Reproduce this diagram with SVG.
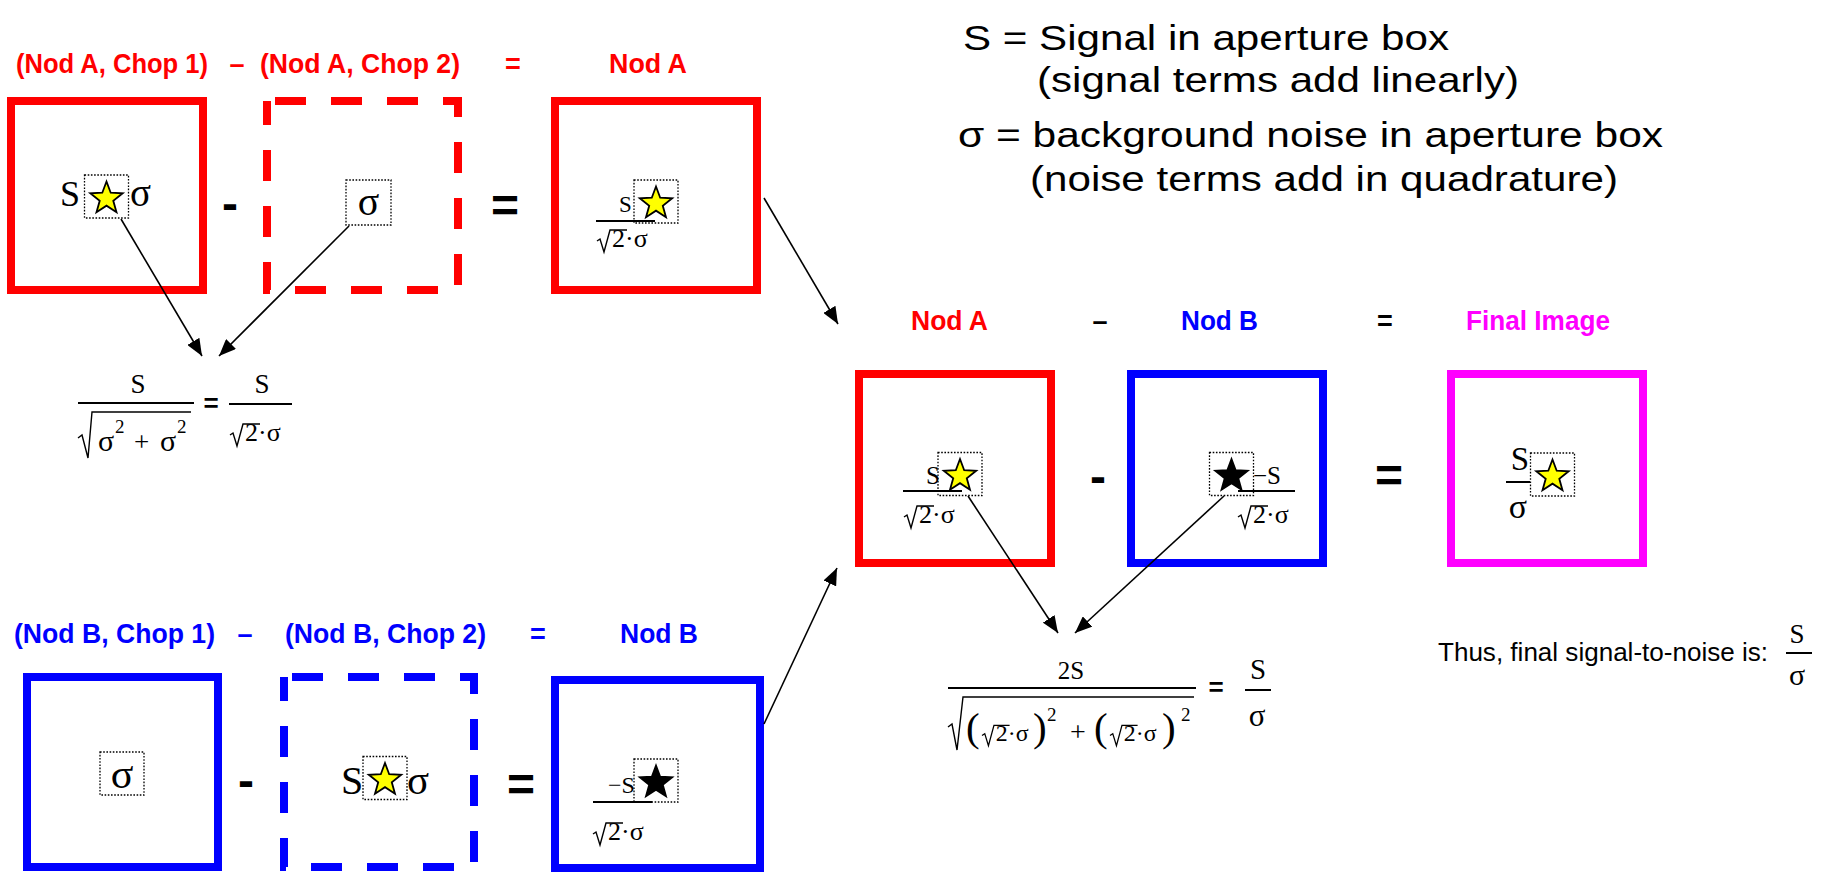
<svg xmlns="http://www.w3.org/2000/svg" xmlns:xlink="http://www.w3.org/1999/xlink" width="1830" height="872" viewBox="0 0 1830 872">
<style>
.hd{font-family:"Liberation Sans",Arial,sans-serif;font-weight:bold;font-size:27px}
.c{text-anchor:middle}
.r{fill:#ff0000}.b{fill:#0000ff}.m{fill:#ff00ff}
.op{font-family:"Liberation Sans",Arial,sans-serif;font-weight:bold;font-size:48px;fill:#000;text-anchor:middle}
.eq{font-family:"Liberation Sans",Arial,sans-serif;font-weight:bold;font-size:26px;fill:#000;text-anchor:middle}
.mt{font-family:"Liberation Serif","Times New Roman",serif;fill:#000}
.lg{font-family:"Liberation Sans",Arial,sans-serif;font-size:35px;fill:#000}
.tx{font-family:"Liberation Sans",Arial,sans-serif;font-size:25px;fill:#000}
.box{fill:none;stroke-width:8}
.sr{stroke:#ff0000}.sb{stroke:#0000ff}.sm{stroke:#ff00ff}
.dash{stroke-dasharray:31 25;stroke-dashoffset:48}
.dot{fill:none;stroke:#000;stroke-width:1.3;stroke-dasharray:1.6 1.6}
.bar{stroke:#000;stroke-width:2}
.rad{fill:none;stroke:#000;stroke-width:1.4}
.conn line{stroke:#000;stroke-width:1.6;marker-end:url(#ah)}
</style>
<defs>
<marker id="ah" markerUnits="userSpaceOnUse" markerWidth="18" markerHeight="14" refX="17" refY="7" orient="auto"><path d="M0,0 L17,7 L0,14 z" fill="#000"/></marker>
<polygon id="star" points="0,-17 4.2,-5.78 16.17,-5.25 6.78,2.21 9.99,13.75 0,7.14 -9.99,13.75 -6.78,2.21 -16.17,-5.25 -4.2,-5.78"/>
<g id="sy"><rect class="dot" x="-22" y="-21.5" width="44" height="43"/><use xlink:href="#star" href="#star" y="2" fill="#ffff00" stroke="#000" stroke-width="1.8"/></g>
<g id="sk"><rect class="dot" x="-22" y="-21.5" width="44" height="43"/><use xlink:href="#star" href="#star" y="2" fill="#000" stroke="#000" stroke-width="1.8"/></g>
<g id="r2s"><polyline class="rad" points="0,-6 3,-8 7,5 13,-17 30,-17"/><text class="mt" x="15" y="0" font-size="26">2·σ</text></g>
</defs>

<g id="legend">
<text class="lg" x="963" y="50" textLength="486" lengthAdjust="spacingAndGlyphs">S = Signal in aperture box</text>
<text class="lg" x="1037" y="92" textLength="482" lengthAdjust="spacingAndGlyphs">(signal terms add linearly)</text>
<text class="lg" x="958" y="147" textLength="705" lengthAdjust="spacingAndGlyphs">σ = background noise in aperture box</text>
<text class="lg" x="1030" y="191" textLength="588" lengthAdjust="spacingAndGlyphs">(noise terms add in quadrature)</text>
</g>

<g id="headings">
<text class="hd r" x="16" y="73" textLength="192" lengthAdjust="spacingAndGlyphs">(Nod A, Chop 1)</text>
<text class="hd r c" x="237" y="73">–</text>
<text class="hd r" x="260" y="73" textLength="200" lengthAdjust="spacingAndGlyphs">(Nod A, Chop 2)</text>
<text class="hd r c" x="513" y="73">=</text>
<text class="hd r" x="609" y="73" textLength="78" lengthAdjust="spacingAndGlyphs">Nod A</text>

<text class="hd r" x="911" y="330" textLength="77" lengthAdjust="spacingAndGlyphs">Nod A</text>
<text class="hd c" x="1100" y="330">–</text>
<text class="hd b" x="1181" y="330" textLength="77" lengthAdjust="spacingAndGlyphs">Nod B</text>
<text class="hd c" x="1385" y="330">=</text>
<text class="hd m" x="1466" y="330" textLength="144" lengthAdjust="spacingAndGlyphs">Final Image</text>

<text class="hd b" x="14" y="643" textLength="201" lengthAdjust="spacingAndGlyphs">(Nod B, Chop 1)</text>
<text class="hd b c" x="245" y="643">–</text>
<text class="hd b" x="285" y="643" textLength="201" lengthAdjust="spacingAndGlyphs">(Nod B, Chop 2)</text>
<text class="hd b c" x="538" y="643">=</text>
<text class="hd b" x="620" y="643" textLength="78" lengthAdjust="spacingAndGlyphs">Nod B</text>
</g>

<g id="operators">
<text class="op" x="230" y="220">-</text>
<text class="op" x="505" y="222">=</text>
<text class="op" x="1098" y="493">-</text>
<text class="op" x="1389" y="492">=</text>
<text class="op" x="246" y="797">-</text>
<text class="op" x="521" y="801">=</text>
</g>

<g id="nodA-chop1">
<rect class="box sr" x="11" y="101" width="192" height="189"/>
<text class="mt" x="60" y="206" font-size="36">S</text>
<use xlink:href="#sy" href="#sy" x="106.5" y="196.5"/>
<text class="mt" x="130" y="206" font-size="39">σ</text>
</g>

<g id="nodA-chop2">
<rect class="box sr dash" x="267" y="101" width="191" height="189"/>
<rect class="dot" x="346" y="180" width="45" height="45"/>
<text class="mt c" x="368.5" y="215" font-size="40">σ</text>
</g>

<g id="nodA">
<rect class="box sr" x="555" y="101" width="202" height="189"/>
<text class="mt" x="619" y="212" font-size="23">S</text>
<line class="bar" x1="596" y1="221" x2="655" y2="221"/>
<use xlink:href="#sy" href="#sy" x="656" y="201.5"/>
<use xlink:href="#r2s" href="#r2s" transform="translate(597,247)"/>
</g>

<g id="formula-A">
<text class="mt c" x="138" y="393" font-size="27">S</text>
<line class="bar" x1="78" y1="403" x2="194" y2="403"/>
<polyline class="rad" points="78,438 82,435 88,458 92,412 191,412"/>
<text class="mt" x="98" y="451" font-size="30">σ</text>
<text class="mt" x="115" y="433" font-size="19">2</text>
<text class="mt" x="134" y="451" font-size="27">+</text>
<text class="mt" x="160" y="451" font-size="30">σ</text>
<text class="mt" x="177" y="433" font-size="19">2</text>
<text class="eq" x="211" y="412">=</text>
<text class="mt c" x="262" y="393" font-size="27">S</text>
<line class="bar" x1="229" y1="404" x2="292" y2="404"/>
<use xlink:href="#r2s" href="#r2s" transform="translate(230,441)"/>
</g>

<g id="nodB-chop1">
<rect class="box sb" x="27" y="677" width="191" height="190"/>
<rect class="dot" x="100" y="752" width="44" height="43"/>
<text class="mt c" x="122" y="788" font-size="42">σ</text>
</g>

<g id="nodB-chop2">
<rect class="box sb dash" x="284" y="677" width="190" height="190"/>
<text class="mt" x="341" y="794" font-size="40">S</text>
<use xlink:href="#sy" href="#sy" x="385" y="778"/>
<text class="mt" x="407" y="794" font-size="41">σ</text>
</g>

<g id="nodB">
<rect class="box sb" x="555" y="680" width="205" height="188"/>
<text class="mt" x="608" y="793" font-size="24">−S</text>
<line class="bar" x1="593" y1="802" x2="652" y2="802"/>
<use xlink:href="#sk" href="#sk" x="656" y="780.5"/>
<use xlink:href="#r2s" href="#r2s" transform="translate(593,840)"/>
</g>

<g id="nodA-final">
<rect class="box sr" x="859" y="374" width="192" height="189"/>
<text class="mt" x="926" y="484" font-size="25">S</text>
<line class="bar" x1="903" y1="491" x2="962" y2="491"/>
<use xlink:href="#sy" href="#sy" x="960" y="474"/>
<use xlink:href="#r2s" href="#r2s" transform="translate(904,523)"/>
</g>

<g id="nodB-final">
<rect class="box sb" x="1131" y="374" width="192" height="189"/>
<use xlink:href="#sk" href="#sk" x="1231.5" y="474"/>
<text class="mt" x="1253" y="484" font-size="25">−S</text>
<line class="bar" x1="1238" y1="491" x2="1295" y2="491"/>
<use xlink:href="#r2s" href="#r2s" transform="translate(1238,523)"/>
</g>

<g id="final-image">
<rect class="box sm" x="1451" y="374" width="192" height="189"/>
<text class="mt c" x="1520" y="470" font-size="33">S</text>
<line class="bar" x1="1506" y1="482" x2="1530" y2="482" stroke-width="2.5"/>
<text class="mt c" x="1518" y="518" font-size="34">σ</text>
<use xlink:href="#sy" href="#sy" x="1552.5" y="474.5"/>
</g>

<g id="formula-final">
<text class="mt c" x="1071" y="679" font-size="25">2S</text>
<line class="bar" x1="948" y1="688" x2="1196" y2="688"/>
<polyline class="rad" points="948,727 952,724 957,750 963,697 1194,697"/>
<text class="mt" x="966" y="741" font-size="41">(</text>
<use xlink:href="#r2s" href="#r2s" transform="translate(982,741) scale(0.92)"/>
<text class="mt" x="1033" y="741" font-size="41">)</text>
<text class="mt" x="1047" y="721" font-size="19">2</text>
<text class="mt" x="1070" y="741" font-size="28">+</text>
<text class="mt" x="1094" y="741" font-size="41">(</text>
<use xlink:href="#r2s" href="#r2s" transform="translate(1110,741) scale(0.92)"/>
<text class="mt" x="1162" y="741" font-size="41">)</text>
<text class="mt" x="1181" y="721" font-size="19">2</text>
<text class="eq" x="1216" y="696">=</text>
<text class="mt c" x="1258" y="679" font-size="29">S</text>
<line class="bar" x1="1245" y1="690" x2="1271" y2="690"/>
<text class="mt c" x="1257" y="726" font-size="31">σ</text>
</g>

<g id="conclusion">
<text class="tx" x="1438" y="661" textLength="330" lengthAdjust="spacingAndGlyphs">Thus, final signal-to-noise is:</text>
<text class="mt c" x="1797" y="643" font-size="27">S</text>
<line class="bar" x1="1786" y1="653" x2="1812" y2="653"/>
<text class="mt c" x="1797" y="685" font-size="30">σ</text>
</g>

<g id="connectors" class="conn">
<line x1="121" y1="219" x2="202" y2="356"/>
<line x1="349" y1="226" x2="219" y2="356"/>
<line x1="764" y1="198" x2="838" y2="324"/>
<line x1="764" y1="724" x2="837" y2="568"/>
<line x1="968" y1="496" x2="1058" y2="633"/>
<line x1="1224" y1="496" x2="1075" y2="633"/>
</g>
</svg>
